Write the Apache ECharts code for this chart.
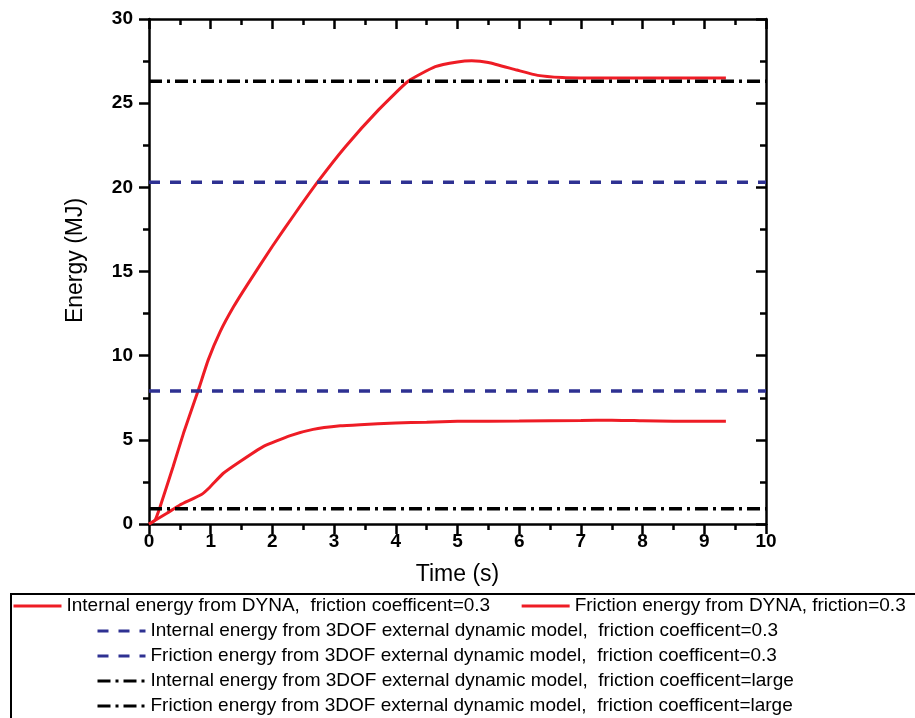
<!DOCTYPE html>
<html>
<head>
<meta charset="utf-8">
<script src="https://cdn.jsdelivr.net/npm/echarts@6/dist/echarts.min.js"></script>
<style>html,body{margin:0;padding:0;background:#fff}#c{width:915px;height:718px}</style>
</head>
<body>
<div id="c"></div>
<script>
// ---- data ----
const internalTime   = [0, 0.1, 0.18, 0.39, 0.56, 0.8, 0.96, 1.15, 1.37, 1.6, 2.0, 2.37, 2.74, 3.18, 3.72, 4.2, 4.64, 5.0, 5.23, 5.5, 5.96, 6.3, 6.7, 7.0, 7.5, 8.0, 8.5, 9.0, 9.35];
const internalEnergy = [0, 0.24, 1.03, 3.4, 5.4, 7.96, 9.75, 11.4, 12.9, 14.25, 16.5, 18.46, 20.35, 22.4, 24.6, 26.3, 27.17, 27.45, 27.52, 27.42, 26.97, 26.65, 26.52, 26.5, 26.5, 26.5, 26.5, 26.5, 26.5];
const frictionTime   = [0, 0.29, 0.5, 0.85, 0.99, 1.2, 1.47, 1.85, 2.29, 2.66, 3.1, 3.42, 4.0, 4.5, 5.0, 6.0, 7.0, 7.5, 8.0, 8.5, 9.0, 9.35];
const frictionEnergy = [0, 0.64, 1.13, 1.75, 2.2, 3.0, 3.7, 4.6, 5.25, 5.62, 5.83, 5.9, 6.0, 6.05, 6.1, 6.12, 6.15, 6.17, 6.13, 6.1, 6.1, 6.1];
const modelSpan = [0, 10];
const model03Internal = 20.3;
const model03Friction = 7.9;
const modelLargeInternal = 26.3;
const modelLargeFriction = 0.9;
const seriesNames = [
  'Internal energy from DYNA,  friction coefficent=0.3',
  'Friction energy from DYNA, friction=0.3',
  'Internal energy from 3DOF external dynamic model,  friction coefficent=0.3',
  'Friction energy from 3DOF external dynamic model,  friction coefficent=0.3',
  'Internal energy from 3DOF external dynamic model,  friction coefficent=large',
  'Friction energy from 3DOF external dynamic model,  friction coefficent=large'
];
const xTitle = 'Time (s)';
const yTitle = 'Energy (MJ)';

// ---- build ----
const zip = (xs, ys) => xs.map((x, i) => [x, ys[i]]);
const flat = v => modelSpan.map(x => [x, v]);
const RED = '#ee1c25', BLUE = '#2e3192', BLACK = '#000';
const DASH = [11, 10], DASHDOT = [13, 5, 3, 5];

const lineS = (name, data, color, type, smooth, width) => ({
  name, type: 'line', data, showSymbol: false, symbol: 'none',
  smooth: smooth ? 0.15 : false,
  lineStyle: { color, width: width || 3, type }, itemStyle: { color }, z: 3
});

const axisFont = { fontFamily: 'Liberation Sans, Arial, sans-serif', fontWeight: 'bold', fontSize: 19, color: '#000' };
const legendFont = { fontFamily: '"Liberation Sans Narrow", "Arial Narrow", "Liberation Sans", sans-serif', fontSize: 19, color: '#000', lineHeight: 20 };

const baseAxis = {
  type: 'value',
  axisLine: { show: true, onZero: false, lineStyle: { color: '#000', width: 2.5 } },
  axisTick: { show: true, length: 10, lineStyle: { color: '#000', width: 2.5 } },
  minorTick: { show: true, splitNumber: 2, length: 6, lineStyle: { color: '#000', width: 2.5 } },
  splitLine: { show: false },
  minorSplitLine: { show: false }
};

const legendCommon = {
  itemWidth: 48, itemHeight: 14, padding: 0,
  textStyle: legendFont,
  lineStyle: { width: 3 },
  itemStyle: { color: 'transparent', borderColor: 'transparent', borderWidth: 0, opacity: 0 }
};

const option = {
  animation: false,
  backgroundColor: '#fff',
  grid: { left: 149, right: 149, top: 19, bottom: 194 },
  xAxis: [
    Object.assign({}, baseAxis, {
      min: 0, max: 10, interval: 1, position: 'bottom',
      axisLabel: Object.assign({ margin: 8 }, axisFont),
      name: xTitle, nameLocation: 'middle', nameGap: 39,
      nameTextStyle: { fontFamily: 'Liberation Sans, Arial, sans-serif', fontSize: 23, color: '#000' }
    }),
    Object.assign({}, baseAxis, {
      min: 0, max: 10, interval: 1, position: 'top',
      axisLabel: { show: false },
      axisTick: { show: true, inside: true, length: 10, lineStyle: { color: '#000', width: 2.5 } },
      minorTick: { show: true, splitNumber: 2, length: 6, lineStyle: { color: '#000', width: 2.5 } }
    })
  ],
  yAxis: [
    Object.assign({}, baseAxis, {
      min: 0, max: 30, interval: 5, position: 'left',
      axisLabel: Object.assign({ margin: 16 }, axisFont),
      name: yTitle, nameLocation: 'middle', nameGap: 62, nameRotate: 90,
      nameTextStyle: { fontFamily: 'Liberation Sans, Arial, sans-serif', fontSize: 23, color: '#000', padding: [0, 0, 0, 22] }
    }),
    Object.assign({}, baseAxis, {
      min: 0, max: 30, interval: 5, position: 'right',
      axisLabel: { show: false },
      axisTick: { show: true, inside: true, length: 10, lineStyle: { color: '#000', width: 2.5 } },
      minorTick: { show: true, splitNumber: 2, length: 6, lineStyle: { color: '#000', width: 2.5 } }
    })
  ],
  legend: [
    Object.assign({}, legendCommon, {
      data: [seriesNames[0], seriesNames[1]],
      left: 12, top: 596, orient: 'horizontal', itemGap: 30
    }),
    Object.assign({}, legendCommon, {
      data: seriesNames.slice(2),
      left: 96, top: 621, orient: 'vertical', itemGap: 5
    })
  ],
  graphic: [
    { type: 'rect', shape: { x: 11, y: 594, width: 920, height: 140 }, style: { fill: 'none', stroke: '#000', lineWidth: 2 }, silent: true, z: 0 }
  ],
  series: [
    lineS(seriesNames[0], zip(internalTime, internalEnergy), RED, 'solid', true),
    lineS(seriesNames[1], zip(frictionTime, frictionEnergy), RED, 'solid', true),
    lineS(seriesNames[2], flat(model03Internal), BLUE, DASH, false, 3.5),
    lineS(seriesNames[3], flat(model03Friction), BLUE, DASH, false, 3.5),
    lineS(seriesNames[4], flat(modelLargeInternal), BLACK, DASHDOT, false, 3.5),
    lineS(seriesNames[5], flat(modelLargeFriction), BLACK, DASHDOT, false, 3.5)
  ]
};

const chart = echarts.init(document.getElementById('c'), null, { renderer: 'canvas' });
chart.setOption(option);
</script>
</body>
</html>
